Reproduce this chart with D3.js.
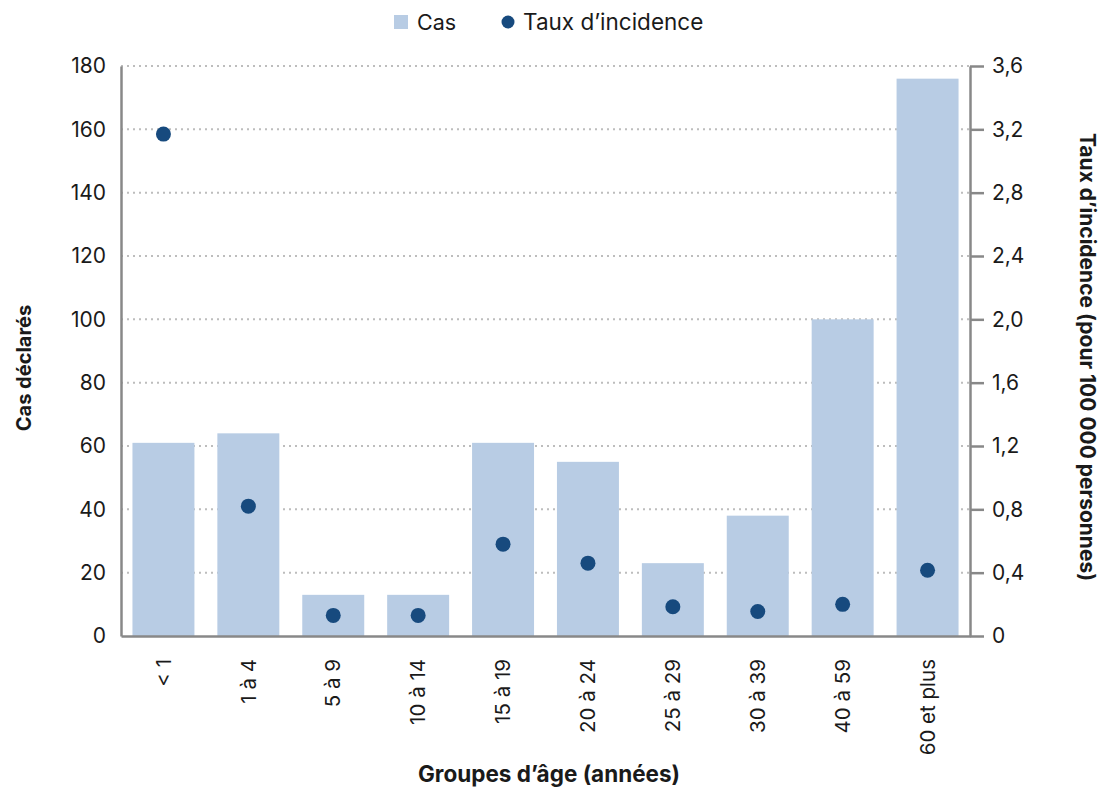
<!DOCTYPE html>
<html><head><meta charset="utf-8">
<script src="https://cdn.jsdelivr.net/npm/d3@7"></script>
<style>body{margin:0;background:#fff;} text{font-family:Inter, Lato, sans-serif;fill:#1a1a1a;}</style>
</head><body>
<svg id="c" width="1104" height="788"></svg>
<script>
const categories = ["< 1","1 à 4","5 à 9","10 à 14","15 à 19","20 à 24","25 à 29","30 à 39","40 à 59","60 et plus"];
const cases = [61,64,13,13,61,55,23,38,100,176];
const rates = [3.17,0.82,0.13,0.13,0.58,0.46,0.185,0.155,0.20,0.415];
const leftTicks = [0,20,40,60,80,100,120,140,160,180];
const rightTicks = [0,0.4,0.8,1.2,1.6,2.0,2.4,2.8,3.2,3.6];

const svg = d3.select("#c");
const L = 121, R = 970, T = 66, B = 636;
const x = d3.scaleBand().domain(categories).range([L,R]).paddingInner(0.27).paddingOuter(0.135);
const yL = d3.scaleLinear().domain([0,180]).range([B,T]);
const yR = d3.scaleLinear().domain([0,3.6]).range([B,T]);
const fmtR = d => d===0 ? "0" : d.toFixed(1).replace(".",",");

svg.append("g").selectAll("line").data(leftTicks.filter(d=>d>0)).join("line")
  .attr("x1",L).attr("x2",R).attr("y1",d=>yL(d)).attr("y2",d=>yL(d))
  .attr("stroke","#bdbdbd").attr("stroke-width",2).attr("stroke-dasharray","2,4");

svg.append("g").selectAll("rect").data(categories).join("rect")
  .attr("x",d=>x(d)).attr("width",x.bandwidth())
  .attr("y",(d,i)=>yL(cases[i])).attr("height",(d,i)=>B-yL(cases[i]))
  .attr("fill","#b8cce4");

svg.append("g").selectAll("circle").data(categories).join("circle")
  .attr("cx",d=>x(d)+x.bandwidth()/2).attr("cy",(d,i)=>yR(rates[i]))
  .attr("r",7.5).attr("fill","#174a7e");

const gl = svg.append("g").attr("transform",`translate(${L},0)`)
  .call(d3.axisLeft(yL).tickValues(leftTicks).tickSize(0).tickPadding(15));
gl.select(".domain").attr("stroke","#888").attr("stroke-width",2.5);
gl.selectAll("text").style("font-size","21px").style("font-family","Inter").attr("fill","#1a1a1a");

const gr = svg.append("g").attr("transform",`translate(${R},0)`)
  .call(d3.axisRight(yR).tickValues(rightTicks).tickFormat(fmtR).tickSize(14).tickPadding(8).tickSizeOuter(0));
gr.select(".domain").attr("stroke","#888").attr("stroke-width",2.5);
gr.selectAll(".tick line").attr("stroke","#888").attr("stroke-width",2.5);
gr.selectAll("text").style("font-size","21px").style("font-family","Inter").attr("fill","#1a1a1a");

const gb = svg.append("g").attr("transform",`translate(0,${B})`)
  .call(d3.axisBottom(x).tickSize(0).tickPadding(0));
gb.select(".domain").attr("stroke","#888").attr("stroke-width",2.5);
gb.selectAll("text").attr("transform","rotate(-90)").attr("text-anchor","end")
  .attr("x",-23).attr("y",0).attr("dy","0.35em")
  .style("font-size","20.5px").style("font-family","Inter").attr("fill","#1a1a1a");

svg.append("text").attr("transform","translate(31,368) rotate(-90)").attr("text-anchor","middle")
  .style("font-size","20px").style("font-weight","bold").text("Cas déclarés");
svg.append("text").attr("transform","translate(1080,357) rotate(90)").attr("text-anchor","middle")
  .style("font-size","21px").style("font-weight","bold").text("Taux d’incidence (pour 100 000 personnes)");
svg.append("text").attr("x",549).attr("y",782).attr("text-anchor","middle")
  .style("font-size","22.5px").style("font-weight","bold").text("Groupes d’âge (années)");

const lg = svg.append("g");
lg.append("rect").attr("x",394).attr("y",15).attr("width",14).attr("height",14).attr("fill","#b8cce4");
lg.append("text").attr("x",417).attr("y",30).style("font-size","21.5px").text("Cas");
lg.append("circle").attr("cx",508).attr("cy",22).attr("r",6.5).attr("fill","#174a7e");
lg.append("text").attr("x",523).attr("y",30).style("font-size","22.5px").text("Taux d’incidence");
</script>
</body></html>
